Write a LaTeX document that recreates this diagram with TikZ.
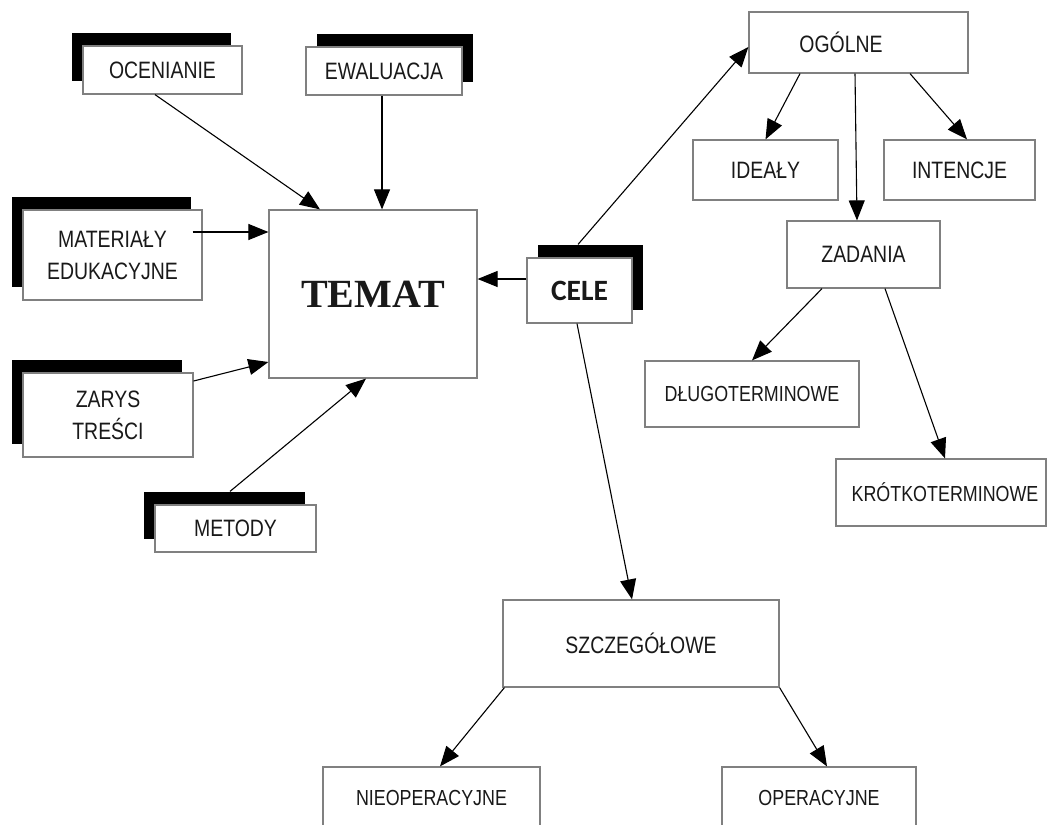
\documentclass[tikz,border=0pt]{standalone}
\usepackage{fontspec}
\setmainfont{Liberation Sans}
\newfontfamily\narrowfont[FakeStretch=0.82]{Liberation Sans}
\newfontfamily\temafont{Liberation Serif}
\newfontfamily\celefont{Carlito}
\usetikzlibrary{arrows.meta,shadows}
\begin{document}
\begin{tikzpicture}[x=1pt,y=-1pt,
  box/.style={draw=black!50, line width=1.2pt, fill=white, inner sep=0pt, align=center,
    text=black!90, font=\narrowfont\fontsize{23.7}{32}\selectfont},
  smallbox/.style={box, font=\narrowfont\fontsize{21.8}{30}\selectfont},
  shadowleft/.style={drop shadow={shadow xshift=-11pt, shadow yshift=13pt, fill=black, opacity=1}},
  shadowright/.style={drop shadow={shadow xshift=11pt, shadow yshift=13pt, fill=black, opacity=1}},
  conn/.style={-{Triangle[length=20pt,width=16pt]}, line width=1.1pt, black}
]
\useasboundingbox (0,0) rectangle (1048,824);
\fill[white] (0,0) rectangle (1048,824);

% left cluster
\node[box, shadowleft, minimum width=159, minimum height=48] (ocen) at (162.5,70) {OCENIANIE};
\node[box, shadowright, minimum width=156, minimum height=48] (ewal) at (384,71) {EWALUACJA};
\node[box, shadowleft, minimum width=179, minimum height=90] (mat) at (112.5,255) {MATERIAŁY\\EDUKACYJNE};
\node[box, shadowleft, minimum width=170, minimum height=84] (zarys) at (108,415) {ZARYS\\TREŚCI};
\node[box, shadowleft, minimum width=161, minimum height=47] (met) at (235.5,528.5) {METODY};
\node[box, minimum width=208, minimum height=168, font=\temafont\bfseries\fontsize{40}{44}\selectfont] (temat) at (373,294) {TEMAT};
\node[box, shadowright, minimum width=105, minimum height=65, font=\celefont\bfseries\fontsize{29.5}{32}\selectfont] (cele) at (579.5,290.5) {CELE};

% right cluster
\node[box, minimum width=219, minimum height=61] (ogol) at (858.5,42.5) {OGÓLNE\hspace*{35pt}};
\node[box, minimum width=145, minimum height=60] (ideal) at (765.5,170) {IDEAŁY};
\node[box, minimum width=151, minimum height=60] (intenc) at (959.5,170) {INTENCJE};
\node[box, minimum width=153, minimum height=67] (zad) at (863.5,254.5) {ZADANIA};
\node[smallbox, minimum width=214, minimum height=66] (dlugo) at (752,394) {DŁUGOTERMINOWE};
\node[smallbox, minimum width=210, minimum height=67] (krotko) at (941,492.5) {\hspace*{8pt}KRÓTKOTERMINOWE};
\node[box, minimum width=276, minimum height=87] (szcz) at (641,643.5) {SZCZEGÓŁOWE};
\node[smallbox, minimum width=217, minimum height=62] (nieop) at (431.5,798) {NIEOPERACYJNE};
\node[smallbox, minimum width=194, minimum height=62] (oper) at (819,798) {OPERACYJNE};

% connectors into TEMAT
\draw[conn] ([xshift=-7.5pt]ocen.south) -- ([xshift=-53pt]temat.north);
\draw[conn] ([xshift=-2pt]ewal.south) -- ([xshift=9pt]temat.north);
\draw[conn] ([xshift=-10pt,yshift=23pt]mat.east) -- ([yshift=62pt]temat.west);
\draw[conn] ([yshift=34pt]zarys.east) -- ([yshift=-68pt]temat.west);
\draw[conn] ([xshift=-5.5pt,yshift=13pt]met.north) -- ([xshift=-7pt]temat.south);
\draw[conn] ([yshift=11.5pt]cele.west) -- ([yshift=15pt]temat.east);

% CELE outgoing
\draw[conn] ([xshift=-1.5pt,yshift=13pt]cele.north) -- ([yshift=-4.5pt]ogol.west);
\draw[conn] ([xshift=-2.5pt]cele.south) -- ([xshift=-9pt]szcz.north);

% OGÓLNE outgoing
\draw[conn] ([xshift=-58.5pt]ogol.south) -- (ideal.north);
\draw[conn] ([xshift=-3.5pt]ogol.south) -- ([xshift=-6.5pt]zad.north);
\draw[conn] ([xshift=51.5pt]ogol.south) -- ([xshift=7.5pt]intenc.north);

% ZADANIA outgoing
\draw[conn] ([xshift=-41.5pt]zad.south) -- (dlugo.north);
\draw[conn] ([xshift=21.5pt]zad.south) -- ([xshift=4pt]krotko.north);

% SZCZEGÓŁOWE outgoing
\draw[conn] ([xshift=2pt]szcz.south west) -- ([xshift=8.5pt]nieop.north);
\draw[conn] (szcz.south east) -- ([xshift=8pt]oper.north);
\end{tikzpicture}
\end{document}
